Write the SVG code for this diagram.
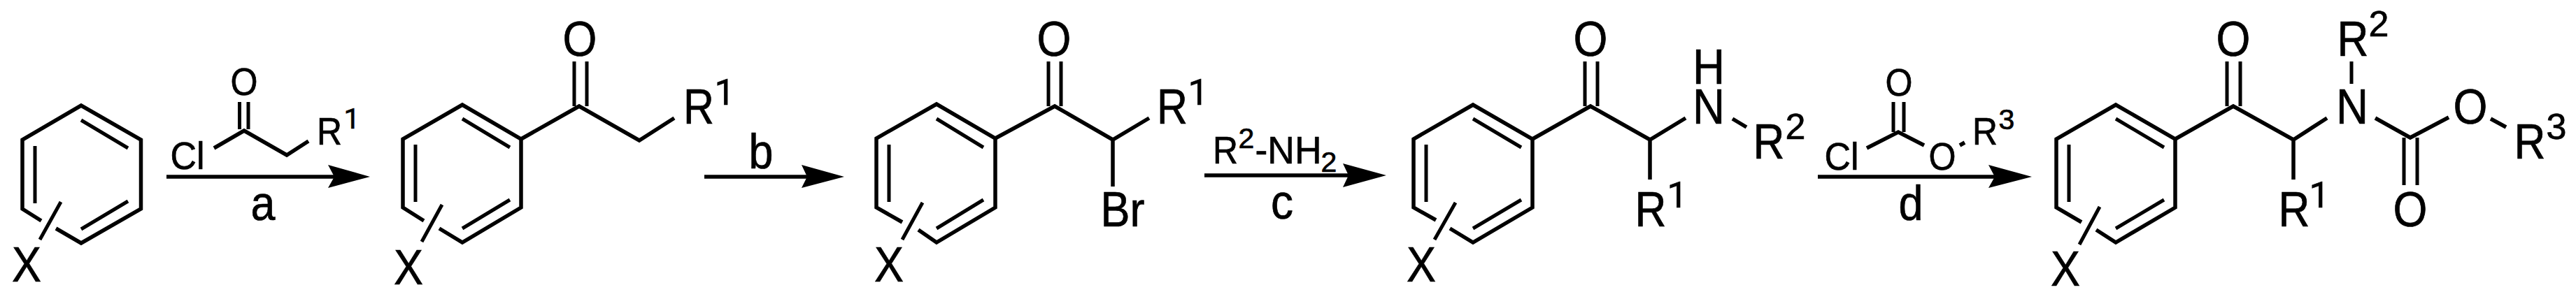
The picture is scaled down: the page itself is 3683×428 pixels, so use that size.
<svg xmlns="http://www.w3.org/2000/svg" width="3683" height="428" viewBox="0 0 3683 428">
<style>
.b{fill:none;stroke:#000;stroke-width:5.5;stroke-linejoin:miter;stroke-linecap:butt}
.i{fill:none;stroke:#000;stroke-width:5}
.a{fill:none;stroke:#000;stroke-width:5.5}
.h{fill:#000;stroke:none}
text{font-family:"Liberation Sans",Arial,sans-serif;fill:#000;stroke:#000;stroke-width:.7;text-anchor:middle}
.l{font-size:70px}
.s{font-size:52px}
.m{font-size:55px}
.t{font-size:41px}
.o{font-family:Roboto,"Liberation Sans",sans-serif}
</style>
<rect width="3683" height="428" fill="#fff"/>
<g id="connectors">
<path class="a" d="M238 253H478"/><path class="h" d="M529 253L469 236L478 253L469 269Z"/>
<path class="a" d="M1007 253H1154"/><path class="h" d="M1207 253L1146 236L1154 253L1146 269Z"/>
<path class="a" d="M1722 251H1928"/><path class="h" d="M1982 251L1920 234L1928 251L1920 268Z"/>
<path class="a" d="M2599 253H2852"/><path class="h" d="M2905 253L2843 236L2852 253L2843 269Z"/>
</g>
<g id="benzene">
<path class="b" d="M59 316L32 299V200L116 151L201.500 200V299L116 348L80 327"/>
<path class="i" d="M116 172L183 212M50 209V291M183 288L116 328M87 289L57 343"/>
<text class="l" x="38" y="403" textLength="42" lengthAdjust="spacingAndGlyphs">X</text>
</g>
<g id="reagent-a">
<path class="b" d="M306 212L349 187L410 222L441 202"/>
<path class="i" d="M342.500 146V185M355 146V185"/>
<text class="m" x="349" y="136" textLength="39" lengthAdjust="spacingAndGlyphs">O</text>
<text class="m" x="268" y="242" textLength="49" lengthAdjust="spacingAndGlyphs">Cl</text>
<text class="m" x="471" y="207" textLength="36" lengthAdjust="spacingAndGlyphs">R</text>
<text class="t o" x="503" y="184">1</text>
<text class="l" x="376" y="315" textLength="35" lengthAdjust="spacingAndGlyphs">a</text>
</g>
<g id="ketone">
<path class="b" d="M606 316L576 297V199L661 150L745 199V297L661 347L628 327"/>
<path class="b" d="M745 199L828 152L914 201L964 169"/>
<path class="i" d="M661 170L729 211M594 207V289M729 286L661 327M632 293L603 346M821 88V152M839 88V152"/>
<text class="l" x="829" y="80" textLength="49" lengthAdjust="spacingAndGlyphs">O</text>
<text class="l" x="584" y="407" textLength="42" lengthAdjust="spacingAndGlyphs">X</text>
<text class="l" x="999" y="177" textLength="44" lengthAdjust="spacingAndGlyphs">R</text>
<text class="s o" x="1036" y="150">1</text>
</g>
<g id="label-b"><text class="l" x="1088" y="241" textLength="35" lengthAdjust="spacingAndGlyphs">b</text></g>
<g id="bromoketone">
<path class="b" d="M1290 318L1253 297V198L1339 149L1423 198V297L1339 347L1313 329"/>
<path class="b" d="M1423 198L1508 152L1591 200L1643 169M1591 200V267"/>
<path class="i" d="M1339 170L1406 211M1271 207V289M1406 286L1339 327M1319 290L1290 343M1499 88V152M1517 88V152"/>
<text class="l" x="1507" y="80" textLength="49" lengthAdjust="spacingAndGlyphs">O</text>
<text class="l" x="1271" y="403" textLength="42" lengthAdjust="spacingAndGlyphs">X</text>
<text class="l" x="1676" y="177" textLength="44" lengthAdjust="spacingAndGlyphs">R</text>
<text class="s o" x="1713" y="150">1</text>
<text class="l" x="1605" y="324" textLength="63" lengthAdjust="spacingAndGlyphs">Br</text>
</g>
<g id="reagent-c">
<text class="m" x="1752" y="234" textLength="36" lengthAdjust="spacingAndGlyphs">R</text>
<text class="t" x="1782" y="212">2</text>
<text class="m" x="1842" y="234" textLength="95" lengthAdjust="spacingAndGlyphs">-NH</text>
<text class="t" x="1900" y="246">2</text>
<text class="l" x="1833" y="313" textLength="32" lengthAdjust="spacingAndGlyphs">c</text>
</g>
<g id="aminoketone">
<path class="b" d="M2053 315L2021 297V199L2106 150L2191 199V297L2106 347L2073 327"/>
<path class="b" d="M2191 199L2274 152L2359 200L2410 169M2359 200V257M2477 170L2497 182"/>
<path class="i" d="M2106 170L2175 211M2039 207V289M2175 286L2106 327M2081 290L2051 343M2266 88V152M2284 88V152"/>
<text class="l" x="2274" y="80" textLength="49" lengthAdjust="spacingAndGlyphs">O</text>
<text class="l" x="2032" y="403" textLength="42" lengthAdjust="spacingAndGlyphs">X</text>
<text class="l" x="2443" y="120" textLength="46" lengthAdjust="spacingAndGlyphs">H</text>
<text class="l" x="2443" y="177" textLength="46" lengthAdjust="spacingAndGlyphs">N</text>
<text class="l" x="2529" y="227" textLength="45" lengthAdjust="spacingAndGlyphs">R</text>
<text class="s" x="2567" y="199">2</text>
<text class="l" x="2360" y="324" textLength="45" lengthAdjust="spacingAndGlyphs">R</text>
<text class="s o" x="2398" y="297">1</text>
</g>
<g id="reagent-d">
<path class="b" d="M2669 212L2714 189L2751 208M2802 208L2809 204"/>
<path class="i" d="M2707 146V189M2722 146V189"/>
<text class="m" x="2715" y="137" textLength="39" lengthAdjust="spacingAndGlyphs">O</text>
<text class="m" x="2633" y="243" textLength="49" lengthAdjust="spacingAndGlyphs">Cl</text>
<text class="m" x="2777" y="243" textLength="39" lengthAdjust="spacingAndGlyphs">O</text>
<text class="m" x="2838" y="207" textLength="36" lengthAdjust="spacingAndGlyphs">R</text>
<text class="t" x="2869" y="185">3</text>
<text class="l" x="2732" y="315" textLength="35" lengthAdjust="spacingAndGlyphs">d</text>
</g>
<g id="carbamate">
<path class="b" d="M2976 318L2940 297V199L3025 150L3110 199V297L3025 347L2997 329"/>
<path class="b" d="M3110 199L3193 152L3279 200L3327 169M3279 200V257M3396 169L3446 197L3501 168M3561 170L3583 182"/>
<path class="i" d="M3025 170L3094 211M2958 207V289M3094 286L3025 327M3002 296L2973 350M3184 88V152M3203 88V152M3362 88V120M3437 197V265M3456 197V265"/>
<text class="l" x="3193" y="80" textLength="49" lengthAdjust="spacingAndGlyphs">O</text>
<text class="l" x="2953" y="409" textLength="42" lengthAdjust="spacingAndGlyphs">X</text>
<text class="l" x="3364" y="80" textLength="45" lengthAdjust="spacingAndGlyphs">R</text>
<text class="s" x="3401" y="52">2</text>
<text class="l" x="3363" y="177" textLength="46" lengthAdjust="spacingAndGlyphs">N</text>
<text class="l" x="3532" y="177" textLength="49" lengthAdjust="spacingAndGlyphs">O</text>
<text class="l" x="3617" y="227" textLength="45" lengthAdjust="spacingAndGlyphs">R</text>
<text class="s" x="3655" y="199">3</text>
<text class="l" x="3280" y="324" textLength="45" lengthAdjust="spacingAndGlyphs">R</text>
<text class="s o" x="3316" y="297">1</text>
<text class="l" x="3446" y="324" textLength="49" lengthAdjust="spacingAndGlyphs">O</text>
</g>
</svg>
